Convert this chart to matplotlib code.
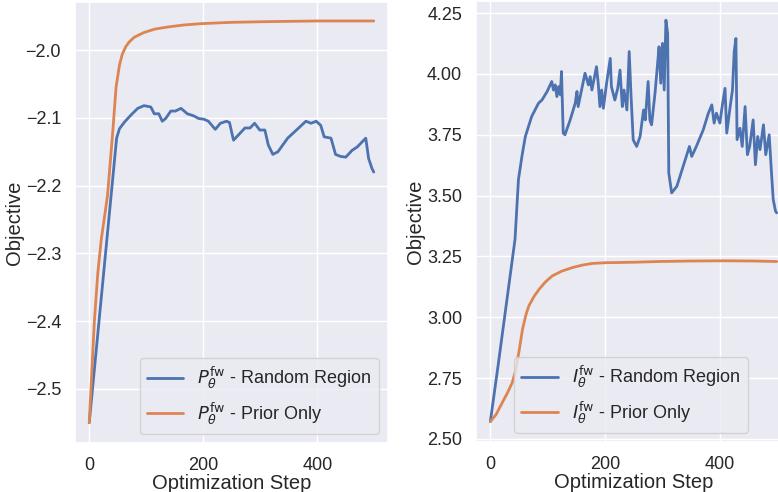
import matplotlib
matplotlib.use("Agg")
import matplotlib.pyplot as plt
import seaborn as sns

# left panel: P_theta^fw
p_rand_steps = [0, 44, 48, 53, 62, 73, 85, 96, 108, 114, 122, 128, 134, 143, 151,
                161, 172, 183, 192, 201, 209, 221, 230, 241, 246, 253, 262, 273, 282, 290,
                299, 308, 314, 322, 331, 348, 366, 380, 389, 398, 406, 412, 424, 432, 441,
                450, 461, 470, 485, 490, 496, 499]
p_rand_vals = [-2.55, -2.165, -2.13, -2.116, -2.106, -2.096, -2.086, -2.082,
               -2.084, -2.094, -2.094, -2.105, -2.101, -2.09, -2.09, -2.086, -2.094, -2.097,
               -2.101, -2.102, -2.105, -2.117, -2.108, -2.105, -2.107, -2.133, -2.125, -2.115,
               -2.115, -2.108, -2.118, -2.118, -2.14, -2.154, -2.15, -2.13, -2.116, -2.105,
               -2.108, -2.105, -2.111, -2.128, -2.13, -2.154, -2.157, -2.158, -2.148, -2.143,
               -2.13, -2.16, -2.175, -2.18]
p_prior_steps = [0, 9, 15, 21, 32, 41, 47, 53, 58, 64, 70, 79, 96, 115, 137, 165, 195, 250,
                 311, 400, 499]
p_prior_vals = [-2.55, -2.40, -2.329, -2.28, -2.215, -2.123, -2.055, -2.022, -2.006, -1.995,
                -1.988, -1.981, -1.974, -1.969, -1.966, -1.963, -1.961, -1.959, -1.958,
                -1.957, -1.957]

# right panel: I_theta^fw
i_rand_steps = [0, 14, 43, 49, 55, 61, 72, 84, 90, 99, 107, 110, 113, 116, 119, 122, 124,
                127, 130, 139, 148, 151, 153, 165, 171, 174, 177, 181, 185, 188, 191, 194,
                197, 203, 209, 211, 217, 222, 226, 230, 233, 238, 242, 245, 249, 255, 261,
                267, 270, 275, 278, 281, 287, 291, 294, 297, 300, 303, 306, 309, 311, 316,
                325, 336, 347, 351, 359, 371, 380, 386, 390, 394, 400, 404, 409, 412, 418,
                422, 425, 428, 430, 435, 439, 444, 448, 452, 458, 462, 466, 470, 476, 480,
                486, 490, 493, 497, 499]
i_rand_vals = [2.571, 2.81, 3.32, 3.566, 3.661, 3.743, 3.825, 3.88, 3.893, 3.928, 3.969,
               3.934, 3.955, 3.907, 3.948, 3.914, 4.01, 3.757, 3.75, 3.81, 3.88, 3.928,
               3.866, 4.003, 3.955, 3.989, 3.934, 3.982, 4.03, 3.962, 3.866, 3.934, 3.859,
               3.969, 4.064, 3.948, 3.893, 3.941, 4.016, 3.866, 3.934, 3.852, 4.092, 3.921,
               3.729, 3.702, 3.743, 3.852, 3.811, 3.969, 3.811, 3.791, 3.921, 4.03, 4.112,
               3.962, 4.126, 3.934, 4.221, 4.167, 3.593, 3.511, 3.538, 3.62, 3.702, 3.661,
               3.702, 3.77, 3.839, 3.873, 3.798, 3.839, 3.798, 3.866, 3.941, 3.757, 3.866,
               3.934, 4.092, 4.146, 3.73, 3.777, 3.702, 3.866, 3.668, 3.702, 3.811, 3.627,
               3.743, 3.689, 3.791, 3.668, 3.75, 3.593, 3.484, 3.436, 3.429]
i_prior_steps = [0, 10, 21, 30, 38, 44, 50, 56, 62, 67, 76, 85, 96, 108, 125, 143, 160, 177,
                 200, 250, 293, 350, 409, 460, 499]
i_prior_vals = [2.571, 2.60, 2.65, 2.69, 2.73, 2.78, 2.86, 2.95, 3.01, 3.046, 3.085, 3.115,
                3.145, 3.17, 3.19, 3.204, 3.214, 3.221, 3.224, 3.226, 3.229, 3.231, 3.232,
                3.231, 3.229]

sns.set_theme(style="darkgrid")
plt.rcParams['font.family'] = ['Liberation Sans', 'DejaVu Sans']

blue = '#4c72b0'
orange = '#dd8452'

fig = plt.figure(figsize=(7.78, 4.92), dpi=100)
ax1 = fig.add_axes([75 / 778, 49 / 492, 313 / 778, 441 / 492])
ax2 = fig.add_axes([476 / 778, 50 / 492, 315 / 778, 441 / 492])

panels = [
    (ax1, p_rand_steps, p_rand_vals, p_prior_steps, p_prior_vals, 'P', (-2.58, -1.929), 1.0),
    (ax2, i_rand_steps, i_rand_vals, i_prior_steps, i_prior_vals, 'I', (2.487, 4.30), 0.892),
]

for ax, rs, rv, ps, pv, sym, ylim, lx in panels:
    ax.plot(rs, rv, color=blue, lw=2,
            label=r'$%s_{\theta}^{\mathrm{fw}}$ - Random Region' % sym)
    ax.plot(ps, pv, color=orange, lw=2,
            label=r'$%s_{\theta}^{\mathrm{fw}}$ - Prior Only' % sym)
    ax.set_xlim(-25, 524)
    ax.set_ylim(*ylim)
    ax.set_xticks([0, 200, 400])
    ax.tick_params(labelsize=13, pad=4)
    ax.set_xlabel('Optimization Step', fontsize=14.5, labelpad=0)
    ax.set_ylabel('Objective', fontsize=14.5, labelpad=1.5)
    ax.legend(loc='lower right', bbox_to_anchor=(lx, 0), fontsize=13)

ax2.set_yticks([2.50, 2.75, 3.00, 3.25, 3.50, 3.75, 4.00, 4.25])
ax2.set_yticklabels(['2.50', '2.75', '3.00', '3.25', '3.50', '3.75', '4.00', '4.25'])

fig.savefig('out.png', dpi=100)
